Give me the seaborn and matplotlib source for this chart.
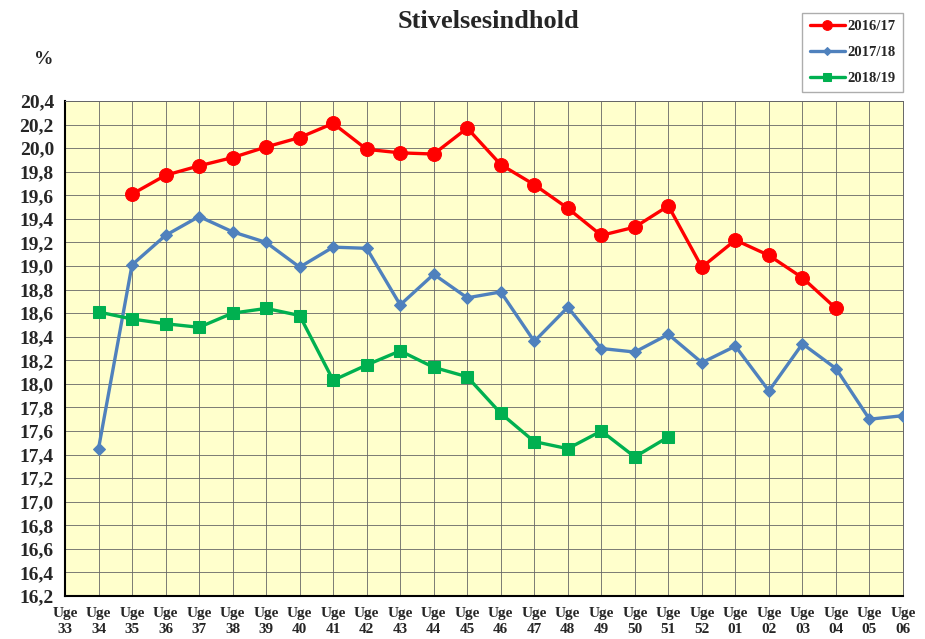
import matplotlib
matplotlib.use("Agg")
import matplotlib.pyplot as plt
import seaborn as sns
import pandas as pd
import numpy as np

weeks = ["33", "34", "35", "36", "37", "38", "39", "40", "41", "42", "43", "44", "45",
         "46", "47", "48", "49", "50", "51", "52", "01", "02", "03", "04", "05", "06"]

s1617 = [None, None, 19.61, 19.77, 19.85, 19.92, 20.01, 20.09, 20.21, 19.99, 19.96, 19.95, 20.17,
         19.86, 19.69, 19.49, 19.26, 19.33, 19.51, 18.99, 19.22, 19.09, 18.90, 18.64, None, None]
s1718 = [None, 17.45, 19.01, 19.26, 19.42, 19.29, 19.20, 18.99, 19.16, 19.15, 18.67, 18.93, 18.73,
         18.78, 18.36, 18.65, 18.30, 18.27, 18.42, 18.18, 18.32, 17.94, 18.34, 18.13, 17.70, 17.73]
s1819 = [None, 18.61, 18.55, 18.51, 18.48, 18.60, 18.64, 18.58, 18.03, 18.16, 18.28, 18.14, 18.06,
         17.75, 17.51, 17.45, 17.60, 17.38, 17.55, None, None, None, None, None, None, None]

series_names = ["2016/17", "2017/18", "2018/19"]
colors = {"2016/17": "#FF0000", "2017/18": "#4F81BD", "2018/19": "#00B050"}
markers = {"2016/17": "o", "2017/18": "D", "2018/19": "s"}
msizes = {"2016/17": 10, "2017/18": 6.5, "2018/19": 8}

rows = []
for name, vals in zip(series_names, [s1617, s1718, s1819]):
    for i, v in enumerate(vals):
        if v is not None:
            rows.append({"idx": i, "value": v, "series": name})
df = pd.DataFrame(rows)

sns.set_style("white")
plt.rcParams['font.family'] = ['Liberation Serif', 'DejaVu Serif']
plt.rcParams['font.weight'] = 'bold'

fig = plt.figure(figsize=(9.25, 6.39), dpi=100)
ax = fig.add_axes([65/925, 1-596/639, (903-65)/925, (596-101)/639])
ax.set_facecolor("#FFFFCC")

for name in series_names:
    sub = df[df["series"] == name]
    sns.lineplot(data=sub, x="idx", y="value", ax=ax, color=colors[name],
                 marker=markers[name], markersize=msizes[name], markeredgecolor=colors[name],
                 linewidth=2.4, label=name, legend=False, zorder=3)

ax.set_xlim(0, len(weeks) - 1)
ax.set_ylim(16.2, 20.4)
yt = np.round(np.arange(16.2, 20.41, 0.2), 1)
ax.set_yticks(yt)
ax.set_yticklabels([f"{v:.1f}".replace(".", ",") for v in yt], fontsize=14, fontweight='bold')
ax.set_xticks(range(len(weeks)))
ax.set_xticklabels([f"Uge\n{w}" for w in weeks], fontsize=11, fontweight='bold', linespacing=1.3)
ax.grid(True, color="#666666", linewidth=0.6)
ax.set_axisbelow(True)
ax.tick_params(axis='both', direction='out', length=4, width=1, color='black', pad=4)
ax.set_xlabel("")
ax.set_ylabel("")
for sp in ax.spines.values():
    sp.set_color("#666666")
    sp.set_linewidth(0.7)
ax.spines['left'].set_color('black')
ax.spines['left'].set_linewidth(1.5)
ax.spines['bottom'].set_color('black')
ax.spines['bottom'].set_linewidth(1.5)

fig.text(488/925, 1-22/639, "Stivelsesindhold", ha='center', va='center', fontsize=19, fontweight='bold')
fig.text(44/925, 1-60/639, "%", ha='center', va='center', fontsize=14, fontweight='bold')

handles, labels = ax.get_legend_handles_labels()
leg = fig.legend(handles, labels, loc='upper right', bbox_to_anchor=(903/925, 1-13/639),
                 prop={'weight': 'bold', 'size': 10.5}, frameon=True, fancybox=False,
                 edgecolor='#999999', handlelength=2.4, borderpad=0.5, labelspacing=0.85,
                 handletextpad=0.2, markerscale=0.7, borderaxespad=0)
leg.get_frame().set_linewidth(1)

fig.savefig("out.png", dpi=100)
